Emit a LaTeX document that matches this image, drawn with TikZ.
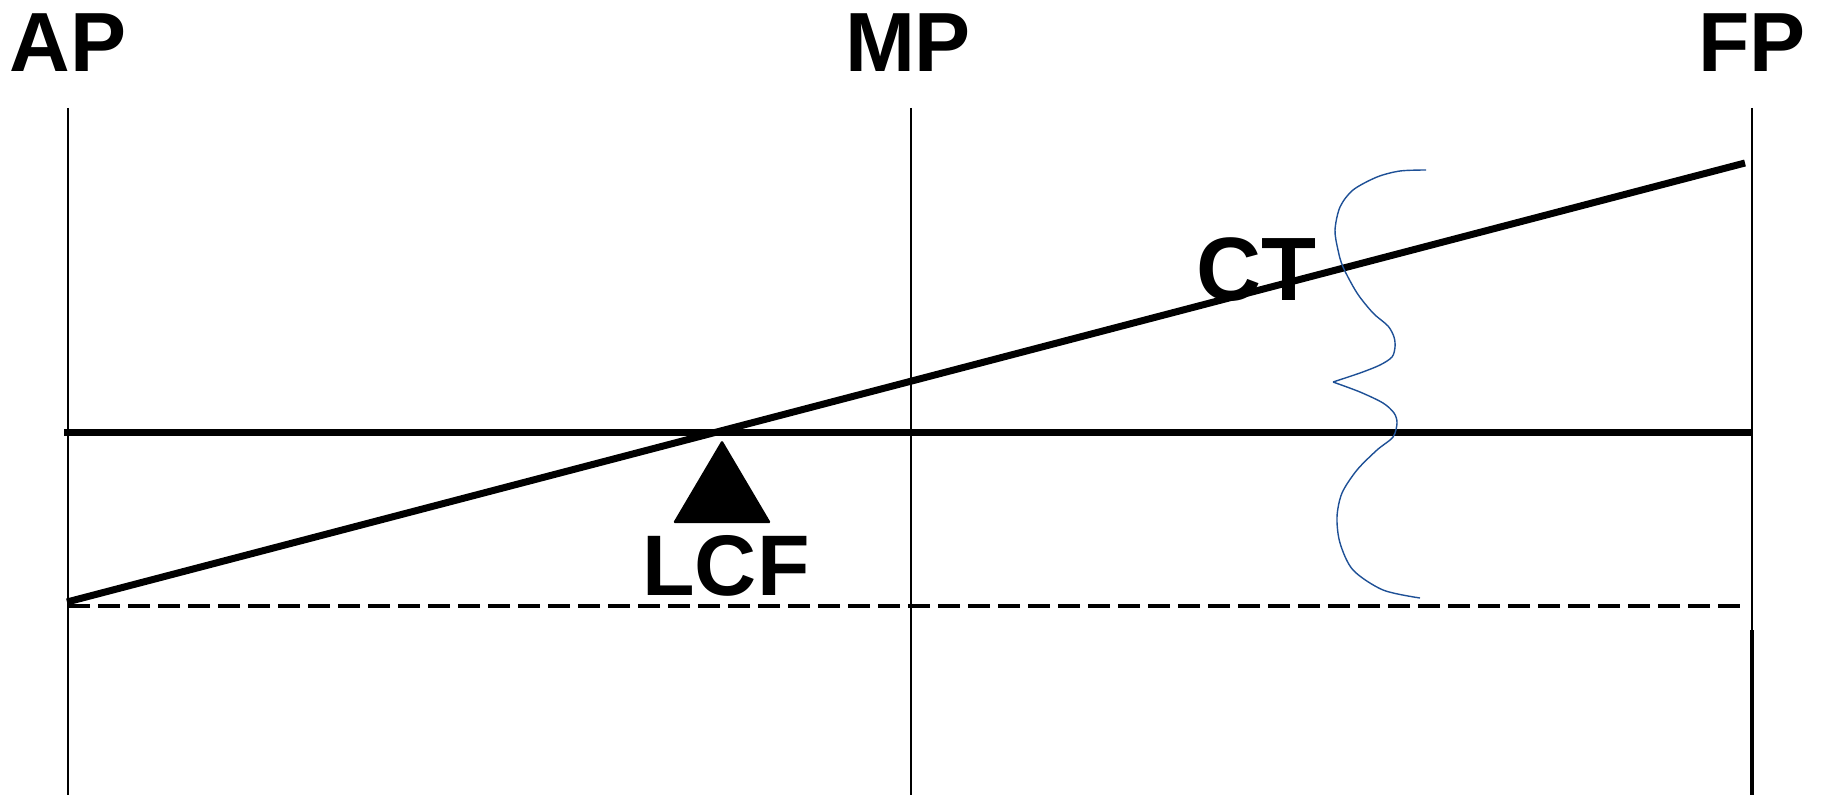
\documentclass[tikz,border=0pt]{standalone}
\usepackage{fontspec}
\setmainfont{Liberation Sans}
\usepackage{tikz}
\usepackage{xcolor}

\definecolor{bracecol}{RGB}{30,80,150}
\tikzset{
  station/.style={line width=2.4pt},
  waterline/.style={line width=7pt},
  baseline/.style={line width=3.5pt,dash pattern=on 22pt off 8pt},
  lbl/.style={inner sep=0pt,anchor=base,font=\bfseries\fontsize{84}{84}\selectfont}
}

\begin{document}
\begin{tikzpicture}[x=1pt,y=-1pt]
\useasboundingbox (0,0) rectangle (1825,797);
% perpendiculars
\coordinate (apTop) at (68,108);   \coordinate (apBot) at (68,795);
\coordinate (mpTop) at (911,108);  \coordinate (mpBot) at (911,795);
\coordinate (fpTop) at (1752,108); \coordinate (fpBot) at (1752,795);
\coordinate (fpMid) at (1752,630);
\draw[station] (apTop) -- (apBot);
\draw[station] (mpTop) -- (mpBot);
\draw[station] (fpTop) -- (fpBot);
\draw[line width=4pt] (fpMid) -- (fpBot);
\node[lbl] (ap) at (68,72) {AP};
\node[lbl] (mp) at (908,72) {MP};
\node[lbl] (fp) at (1752,72) {FP};
% waterlines
\coordinate (wlA) at (64,432);   \coordinate (wlF) at (1752,432);
\coordinate (trA) at (67,602);   \coordinate (trF) at (1745,163);
\coordinate (keelA) at (68,606); \coordinate (keelF) at (1746,606);
\draw[waterline] (wlA) -- (wlF);
\draw[baseline] (keelA) -- (keelF);
\node[lbl,font=\bfseries\fontsize{90}{90}\selectfont] (ct) at (1256,300) {CT};
\draw[waterline] (trA) -- (trF);
% centre of flotation
\fill[rounded corners=1.5pt] (722,440) -- (771,523) -- (673,523) -- cycle;
\node[lbl,font=\bfseries\fontsize{86}{86}\selectfont] (lcf) at (726,595) {LCF};
% brace
\draw[bracecol,line width=1.4pt] plot[smooth,tension=0.5] coordinates {
  (1426,170) (1400,171) (1377,177) (1353,190) (1340,207) (1335,230)
  (1338,250) (1343,267) (1357,293) (1373,313) (1388,326) (1394,337)
  (1395,347) (1392,357) (1380,365) (1360,373) (1333,382)};
\draw[bracecol,line width=1.4pt] plot[smooth,tension=0.5] coordinates {
  (1333,382) (1360,392) (1383,403) (1394,413) (1397,423) (1393,437)
  (1377,450) (1357,470) (1342,493) (1337,517) (1340,543) (1353,570)
  (1383,590) (1420,598)};
\end{tikzpicture}
\end{document}
